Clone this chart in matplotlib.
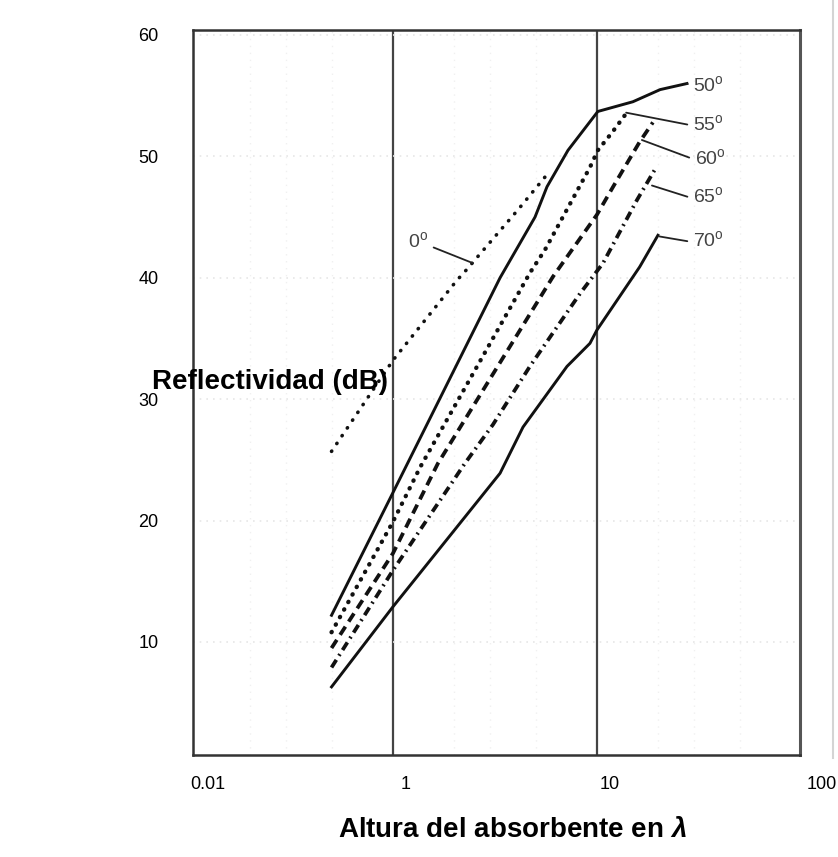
import matplotlib
matplotlib.use('Agg')
import matplotlib.pyplot as plt
from matplotlib.lines import Line2D
from matplotlib.transforms import ScaledTranslation

plt.rcParams['font.family'] = ['Liberation Sans', 'DejaVu Sans']
plt.rcParams['mathtext.fontset'] = 'custom'
plt.rcParams['mathtext.rm'] = 'Liberation Sans'
plt.rcParams['mathtext.it'] = 'Liberation Sans:italic:bold'
plt.rcParams['mathtext.bf'] = 'Liberation Sans:bold'

# curves (height in wavelengths, reflectivity dB)
x_0 = [0.5, 1.0, 2.06, 2.25, 4.10, 5.69]
y_0 = [25.7, 33.2, 39.8, 40.5, 45.6, 48.5]

x_50 = [0.5, 1.0, 3.35, 4.97, 5.69, 7.21, 10.1, 15.0, 20.4, 27.6]
y_50 = [12.2, 22.3, 40.0, 45.0, 47.5, 50.5, 53.7, 54.5, 55.5, 56.0]

x_55 = [0.5, 1.0, 1.36, 4.69, 5.56, 9.24, 10.1, 11.9, 14.0]
y_55 = [10.8, 19.9, 24.4, 40.4, 42.3, 49.1, 50.5, 52.0, 53.6]

x_60 = [0.5, 1.0, 1.66, 6.09, 10.0, 12.0, 16.2, 18.8]
y_60 = [9.5, 17.3, 24.7, 40.1, 45.2, 47.5, 51.2, 52.8]

x_65 = [0.5, 1.0, 2.25, 3.09, 4.69, 8.26, 10.7, 15.7, 19.2]
y_65 = [7.9, 15.9, 24.7, 27.9, 32.7, 38.7, 41.2, 46.4, 48.9]

x_70 = [0.5, 1.0, 3.35, 4.34, 7.13, 9.24, 10.0, 16.2, 19.9]
y_70 = [6.3, 12.9, 23.9, 27.7, 32.7, 34.6, 35.7, 40.9, 43.5]

# angle labels: text, leader end on the curve, text anchor
angle_labels = ['0', '50', '55', '60', '65', '70']
leader_xy = [(2.47, 41.2), (27.6, 56.0), (13.9, 53.6), (16.6, 51.35), (18.6, 47.6), (20.3, 43.4)]
label_xy = [(1.49, 43.0), (29.5, 55.9), (29.5, 52.7), (30.1, 49.9), (29.5, 46.7), (29.5, 43.1)]

x_ticks = [0.1047, 1, 10, 98.9]
x_tick_labels = ['0.01', '1', '10', '100']
y_ticks = [10, 20, 30, 40, 50, 60]
y_tick_labels = ['10', '20', '30', '40', '50', '60']

fig = plt.figure(figsize=(8.38, 8.57), dpi=100)
ax = fig.add_axes([193 / 838, 1 - 755 / 857, 607 / 838, 725 / 857])
ax.set_xscale('log')
ax.set_xlim(0.1047, 98.9)
ax.set_ylim(0.69, 60.41)

# faint dotted grid from the scan
ax.grid(True, which='major', axis='y', color='#e6e6e6', linestyle=(0, (1, 3)), lw=1.2)
ax.grid(True, which='minor', axis='x', color='#f0f0f0', linestyle=(0, (1, 4)), lw=1.0)

# heavy reference lines at 1 and 10
for xv in [1, 10]:
    ax.axvline(xv, color='#444444', lw=1.6, zorder=1)

ink = '#111111'
ax.plot(x_0, y_0, color=ink, lw=2.6, linestyle=(0, (0.1, 2.5)), dash_capstyle='round')
ax.plot(x_50, y_50, color=ink, lw=2.1)
ax.plot(x_55, y_55, color=ink, lw=3.1, linestyle=(0, (0.1, 1.9)), dash_capstyle='round')
ax.plot(x_60, y_60, color=ink, lw=2.7, linestyle=(0, (2.6, 1.6)))
ax.plot(x_65, y_65, color=ink, lw=2.7, linestyle=(0, (2.4, 1.3, 0.5, 1.3)))
ax.plot(x_70, y_70, color=ink, lw=2.1)

for name, xy, txy in zip(angle_labels, leader_xy, label_xy):
    ha = 'right' if name == '0' else 'left'
    ax.annotate(name + r'$^{\mathrm{o}}$', xy=xy, xytext=txy, ha=ha, va='center',
                fontsize=14, color='#444444',
                arrowprops=dict(arrowstyle='-', color='#222222', lw=1.3,
                                shrinkA=2, shrinkB=0,
                                relpos=(1, 0.3) if name == '0' else (0, 0.4)))

ax.set_xticks(x_ticks)
ax.set_xticklabels(x_tick_labels)
ax.set_yticks(y_ticks)
ax.set_yticklabels(y_tick_labels)
ax.minorticks_off()
ax.set_xticks([0.2, 0.3, 0.5, 2, 3, 5, 20, 30, 50], minor=True)
ax.tick_params(axis='both', which='both', length=0, labelsize=13, colors='black')
ax.tick_params(axis='x', pad=15)
ax.tick_params(axis='y', pad=25)
for lab, dx in zip(ax.get_xticklabels(), [15, 13, 13, 22]):
    lab.set_transform(lab.get_transform() + ScaledTranslation(dx / 100, 0, fig.dpi_scale_trans))

for side in ['left', 'bottom', 'top']:
    ax.spines[side].set_color('#333333')
    ax.spines[side].set_linewidth(1.8)
ax.spines['right'].set_color('#555555')
ax.spines['right'].set_linewidth(2.2)

# scan edge on the right
fig.add_artist(Line2D([833 / 838, 833 / 838], [1, 1 - 758 / 857], color='#d4d4d4', lw=1.5))

fig.text(270 / 838, 1 - 382 / 857, 'Reflectividad (dB)', ha='center', va='center',
         fontsize=20, fontweight='bold')
fig.text(512 / 838, 1 - 830 / 857, r'Altura del absorbente en $\lambda$', ha='center',
         va='center', fontsize=20, fontweight='bold')

fig.savefig('out.png', dpi=100)
